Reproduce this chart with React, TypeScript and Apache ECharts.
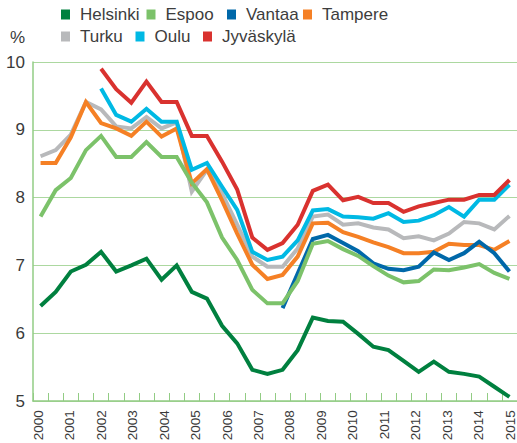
import React, { useEffect, useRef } from "react";
import * as echarts from "echarts";

const years = ["2000","2001","2002","2003","2004","2005","2006","2007","2008","2009","2010","2011","2012","2013","2014","2015"];
const periods = years.flatMap((y) => [y + " I", y + " II"]);

const helsinki = [6.40, 6.61, 6.91, 7.01, 7.20, 6.91, 7.00, 7.10, 6.79, 7.00, 6.61, 6.51, 6.11, 5.85, 5.46, 5.40, 5.46, 5.75, 6.23, 6.18, 6.17, 5.99, 5.80, 5.75, 5.59, 5.43, 5.58, 5.43, 5.40, 5.36, 5.21, 5.06];
const espoo = [7.72, 8.11, 8.29, 8.70, 8.91, 8.60, 8.60, 8.82, 8.60, 8.60, 8.22, 7.93, 7.41, 7.08, 6.64, 6.44, 6.44, 6.77, 7.32, 7.36, 7.24, 7.14, 6.99, 6.85, 6.75, 6.77, 6.94, 6.93, 6.97, 7.02, 6.89, 6.80];
const vantaa = [null, null, null, null, null, null, null, null, null, null, null, null, null, null, null, null, 6.37, 6.88, 7.39, 7.45, 7.33, 7.21, 7.03, 6.95, 6.93, 6.98, 7.19, 7.08, 7.18, 7.35, 7.18, 6.91];
const tampere = [8.51, 8.51, 8.89, 9.41, 9.10, 9.02, 8.91, 9.12, 8.90, 9.02, 8.21, 8.42, 7.96, 7.47, 7.01, 6.80, 6.86, 7.13, 7.62, 7.63, 7.49, 7.42, 7.34, 7.27, 7.18, 7.18, 7.20, 7.32, 7.30, 7.30, 7.23, 7.36];
const turku = [8.61, 8.70, 8.93, 9.41, 9.30, 9.05, 9.02, 9.19, 9.02, 9.11, 8.09, 8.41, 8.06, 7.60, 7.13, 6.98, 6.98, 7.25, 7.72, 7.75, 7.60, 7.62, 7.56, 7.53, 7.40, 7.43, 7.37, 7.47, 7.64, 7.62, 7.53, 7.73];
const oulu = [null, null, null, null, 9.61, 9.22, 9.12, 9.31, 9.12, 9.12, 8.41, 8.51, 8.16, 7.82, 7.20, 7.08, 7.13, 7.37, 7.81, 7.83, 7.72, 7.71, 7.69, 7.77, 7.64, 7.66, 7.74, 7.86, 7.72, 7.97, 7.97, 8.19];
const jyvaskyla = [null, null, null, null, 9.90, 9.60, 9.40, 9.71, 9.41, 9.41, 8.91, 8.91, 8.53, 8.12, 7.41, 7.23, 7.33, 7.60, 8.10, 8.19, 7.96, 8.01, 7.92, 7.92, 7.79, 7.87, 7.92, 7.97, 7.97, 8.04, 8.04, 8.26];

const cities = ["Helsinki", "Espoo", "Vantaa", "Tampere", "Turku", "Oulu", "Jyväskylä"];
const colors: Record<string, string> = {
  Helsinki: "#00803f",
  Espoo: "#7cc26a",
  Vantaa: "#0068a9",
  Tampere: "#f58025",
  Turku: "#b8b9bb",
  Oulu: "#00b9e4",
  "Jyväskylä": "#d9322f",
};
const seriesData: Record<string, (number | null)[]> = {
  Helsinki: helsinki,
  Espoo: espoo,
  Vantaa: vantaa,
  Tampere: tampere,
  Turku: turku,
  Oulu: oulu,
  "Jyväskylä": jyvaskyla,
};
const drawOrder = ["Helsinki", "Turku", "Tampere", "Vantaa", "Espoo", "Oulu", "Jyväskylä"];
const legendPos: [number, number][] = [
  [61, 6], [146.5, 6], [227, 6], [303, 6],
  [61, 28], [135.5, 28], [203, 28],
];

const FONT = "'Liberation Sans', Arial, sans-serif";
const GRID_COLOR = "#acd8a0";
const AXIS_COLOR = "#92cc84";

export default function App() {
  const ref = useRef<HTMLDivElement>(null);
  useEffect(() => {
    if (!ref.current) return;
    const chart = echarts.init(ref.current, null, { renderer: "svg" });
    chart.setOption({
      animation: false,
      textStyle: { fontFamily: FONT },
      legend: cities.map((c, i) => ({
        data: [c],
        left: legendPos[i][0],
        top: legendPos[i][1],
        padding: 0,
        icon: "rect",
        itemWidth: 9,
        itemHeight: 10,
        selectedMode: false,
        textStyle: { fontSize: 17, color: "#3d3d3d", fontFamily: FONT, padding: [0, 0, 0, 5] },
      })),
      grid: [
        { left: 33, top: 62, width: 487, height: 339 },
        { left: 38.5, top: 400, width: 473.5, height: 1 },
      ],
      xAxis: [
        {
          type: "category",
          gridIndex: 0,
          data: periods,
          boundaryGap: true,
          axisLine: { show: true, lineStyle: { color: AXIS_COLOR, width: 1.5 } },
          axisTick: { show: true, inside: true, length: 8, interval: 0, lineStyle: { color: AXIS_COLOR, width: 1 } },
          axisLabel: { show: false },
          splitLine: { show: false },
        },
        {
          type: "category",
          gridIndex: 1,
          data: years,
          boundaryGap: false,
          axisLine: { show: false },
          axisTick: { show: false },
          axisLabel: { show: true, interval: 0, rotate: 90, margin: 10, fontSize: 13.5, color: "#3a3a3a", fontFamily: FONT },
          splitLine: { show: false },
        },
      ],
      yAxis: [
        {
          type: "value",
          gridIndex: 0,
          min: 5,
          max: 10,
          interval: 1,
          name: "%",
          nameLocation: "end",
          nameGap: 16,
          nameTextStyle: { fontSize: 17, color: "#3a3a3a", align: "right", padding: [0, 8, 0, 0], fontFamily: FONT },
          axisLine: { show: true, lineStyle: { color: AXIS_COLOR, width: 1.5 } },
          axisTick: { show: false },
          axisLabel: { fontSize: 17, color: "#3a3a3a", margin: 8, fontFamily: FONT },
          splitLine: { show: true, lineStyle: { color: GRID_COLOR, width: 1.2 } },
        },
        {
          type: "value",
          gridIndex: 1,
          show: false,
        },
      ],
      series: drawOrder.map((c) => ({
        name: c,
        type: "line",
        xAxisIndex: 0,
        yAxisIndex: 0,
        data: seriesData[c],
        showSymbol: false,
        symbol: "none",
        connectNulls: false,
        color: colors[c],
        lineStyle: { width: 4, color: colors[c], cap: "butt", join: "miter" },
        emphasis: { disabled: true },
      })),
    });
    return () => chart.dispose();
  }, []);
  return (
    <div
      ref={ref}
      style={{ position: "fixed", left: 0, top: 0, width: 517, height: 443, background: "#fff" }}
    />
  );
}
